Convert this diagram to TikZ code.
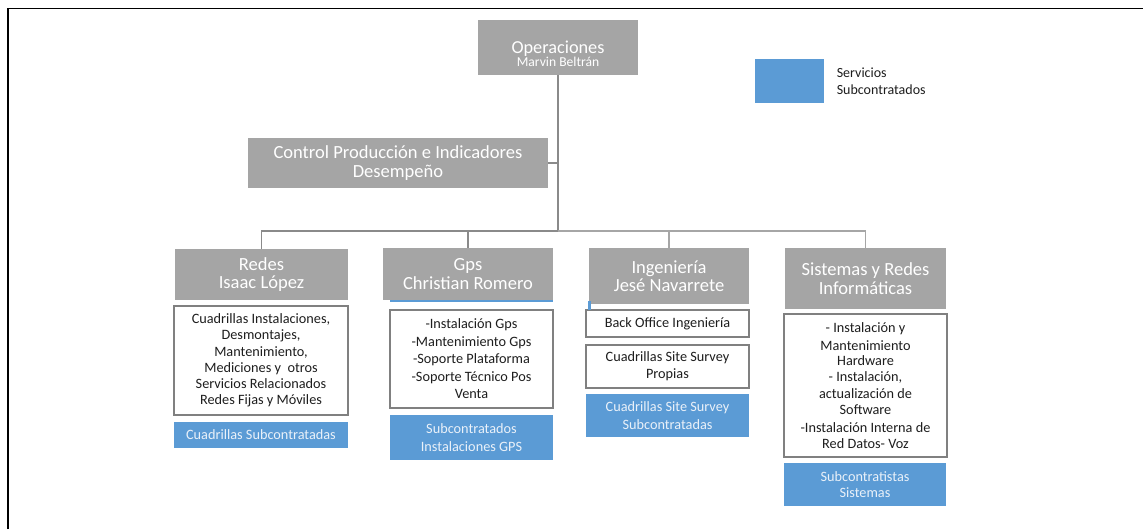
\documentclass[tikz,border=0pt]{standalone}
\usepackage{fontspec}
\setmainfont{Carlito}
\definecolor{boxgrey}{HTML}{A5A5A5}
\definecolor{subblue}{HTML}{5B9BD5}
\definecolor{linegrey}{HTML}{8A8A8A}
\definecolor{linegreyl}{HTML}{A6A6A6}
\definecolor{descborder}{HTML}{808080}
\definecolor{bluetext}{HTML}{EAF1F9}
\definecolor{darktext}{HTML}{1E1E1E}
\begin{document}
\begin{tikzpicture}[x=0.75pt,y=-0.75pt,
  sz/.style 2 args={minimum width=#1*0.75pt, minimum height=#2*0.75pt},
  base/.style={rectangle, inner sep=0pt, align=center},
  hdr/.style={base, fill=boxgrey, text=white, font=\fontsize{13.9}{13.9}\selectfont},
  desc/.style={base, draw=descborder, line width=1.4pt, fill=white, text=darktext, font=\fontsize{10.7}{12.2}\selectfont},
  sub/.style={base, fill=subblue, text=bluetext, font=\fontsize{10.7}{13.3}\selectfont},
  conn/.style={draw=linegrey, line width=1.1pt},
  connl/.style={draw=linegreyl, line width=1.1pt}]
\useasboundingbox (0,0) rectangle (1143,529);
\fill[white] (0,0) rectangle (1143,529);
% frame
\draw[line width=1.1pt] (8,529) -- (8,8.5) -- (1143,8.5);
% top
\node[hdr, sz={160}{55}] (op) at (558,47.5) {};
\node[base, anchor=base, text=white, font=\fontsize{13.7}{14}\selectfont] (opt1) at (558,53.3) {Operaciones};
\node[base, anchor=base, text=white, font=\fontsize{10.2}{11}\selectfont] (opt2) at (558,66.7) {Marvin Beltrán};
\node[hdr, sz={300}{50}] (ctrl) at (398,163) {Control Producción e Indicadores\\Desempeño};
% legend
\node[base, fill=subblue, sz={69}{44}] (leg) at (789.5,81) {};
\node[base, anchor=west, align=left, text=darktext, font=\fontsize{10.5}{12.8}\selectfont] (legt) at (836.5,81) {Servicios\\Subcontratados};
% headers
\node[hdr, sz={173}{51}] (redes) at (261.5,274.5) {Redes\\Isaac López};
\node[hdr, sz={170}{52}] (gps) at (468,274) {Gps\\Christian Romero};
\node[hdr, sz={160}{56}] (ing) at (669,276) {Ingeniería\\Jesé Navarrete};
\node[hdr, sz={161}{61}] (sis) at (865.5,278.5) {Sistemas y Redes\\Informáticas};
% descriptions
\node[desc, sz={174}{109}] (redesd) at (261,360.5) {Cuadrillas Instalaciones,\\Desmontajes,\\Mantenimiento,\\Mediciones y\ \ otros\\Servicios Relacionados\\Redes Fijas y Móviles};
\node[sub, sz={174}{26}] (redess) at (261,435) {Cuadrillas Subcontratadas};
\node[desc, sz={163}{98}, font=\fontsize{10.7}{13.1}\selectfont] (gpsd) at (471.5,359) {-Instalación Gps\\-Mantenimiento Gps\\-Soporte Plataforma\\-Soporte Técnico Pos\\Venta};
\node[sub, sz={163}{45}] (gpss) at (471.5,437.5) {Subcontratados\\Instalaciones GPS};
\node[desc, sz={163}{27}] (bo) at (667.5,323.5) {Back Office Ingeniería};
\node[desc, sz={163}{43}, font=\fontsize{10.7}{13}\selectfont] (prop) at (667.5,366.5) {Cuadrillas Site Survey\\Propias};
\node[sub, sz={163}{43}] (ings) at (667.5,415.5) {Cuadrillas Site Survey\\Subcontratadas};
\node[desc, sz={163}{143}, font=\fontsize{10.7}{11.8}\selectfont] (sisd) at (865.5,385.5) {- Instalación y\\[1.5pt]Mantenimiento\\Hardware\\- Instalación,\\[1pt]actualización de\\Software\\[2pt]-Instalación Interna de\\Red Datos- Voz};
\node[sub, sz={162}{43}, font=\fontsize{10.7}{12.5}\selectfont] (siss) at (865,484.5) {Subcontratistas\\Sistemas};
% small blue marks
\draw[subblue, line width=0.8pt] (390,301) -- (553,301);
\fill[subblue] (588,301) rectangle (590.5,310);
% connectors
\coordinate (busc) at (558,231);
\draw[conn] (op.south) -- (busc);
\draw[conn] (ctrl.east) -- (ctrl.east -| busc);
\draw[conn] (redes.north) -- (redes.north |- busc) -- (busc);
\draw[conn] (gps.north) -- (gps.north |- busc);
\draw[connl] (busc) -- (sis.north |- busc) -- (sis.north);
\draw[connl] (ing.north) -- (ing.north |- busc);
\end{tikzpicture}
\end{document}
